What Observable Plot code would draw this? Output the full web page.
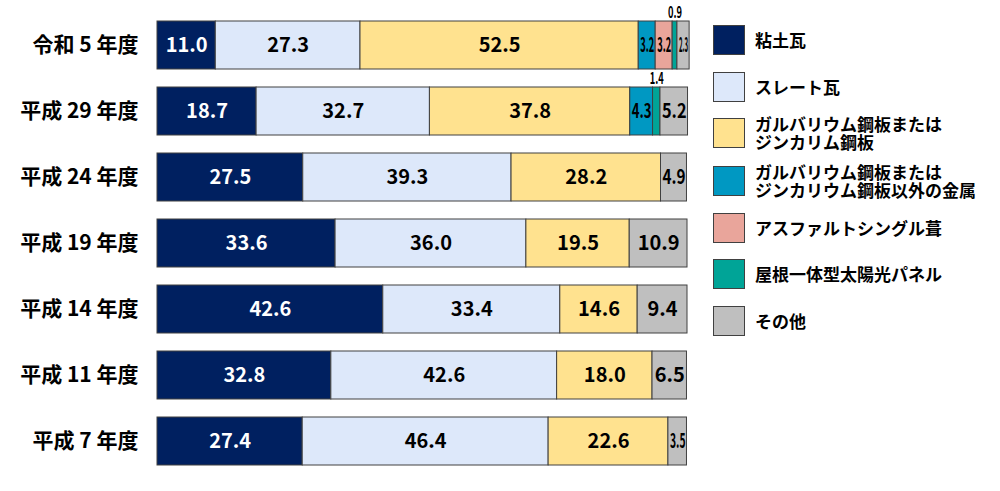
<!DOCTYPE html>
<html><head><meta charset="utf-8">
<script src="https://cdn.jsdelivr.net/npm/d3@7"></script>
<script src="https://cdn.jsdelivr.net/npm/@observablehq/plot@0.6"></script>
<style>
body{margin:0;background:#fff;font-family:"Noto Sans CJK JP",sans-serif;}
#wrap{position:relative;width:1000px;height:491px;}
#legend{position:absolute;left:0;top:0;}
.item{position:absolute;left:713px;display:flex;align-items:center;}
.sw{width:30px;height:28px;border:1px solid #404040;}
.lab{position:absolute;left:42px;font-weight:bold;font-size:17px;line-height:18px;white-space:nowrap;color:#000;}
</style></head>
<body><div id="wrap"><div id="chart"></div><div id="legend"></div></div>
<script>
const years = ["令和 5 年度","平成 29 年度","平成 24 年度","平成 19 年度","平成 14 年度","平成 11 年度","平成 7 年度"];
const seriesNames = ["粘土瓦","スレート瓦","ガルバリウム鋼板またはジンカリム鋼板","ガルバリウム鋼板またはジンカリウム鋼板以外の金属","アスファルトシングル葺","屋根一体型太陽光パネル","その他"];
const legendLines = [["粘土瓦"],["スレート瓦"],["ガルバリウム鋼板または","ジンカリム鋼板"],["ガルバリウム鋼板または","ジンカリウム鋼板以外の金属"],["アスファルトシングル葺"],["屋根一体型太陽光パネル"],["その他"]];
const colors = ["#002060","#dde8fa","#ffe28f","#0098c2","#e9a59b","#00a497","#bfbfbf"];
const clay = [11.0,18.7,27.5,33.6,42.6,32.8,27.4];
const slate = [27.3,32.7,39.3,36.0,33.4,42.6,46.4];
const galvalume = [52.5,37.8,28.2,19.5,14.6,18.0,22.6];
const otherMetal = [3.2,4.3,0,0,0,0,0];
const asphalt = [3.2,0,0,0,0,0,0];
const solar = [0.9,1.4,0,0,0,0,0];
const other = [2.3,5.2,4.9,10.9,9.4,6.5,3.5];
const series = [clay,slate,galvalume,otherMetal,asphalt,solar,other];

// long table, with cumulative start for label placement
const table = [];
years.forEach((y,i)=>{
  let acc = 0;
  series.forEach((s,j)=>{
    if (s[i] > 0) table.push({year:y, series:seriesNames[j], value:s[i], si:j, start:acc, mid:acc + s[i]/2});
    acc += s[i];
  });
});

const inside = d => d.value >= 2;
const insideData = table.filter(inside);
const aboveData = table.filter(d => !inside(d));

const fontFam = '"Noto Sans CJK JP", sans-serif';
const chart = Plot.plot({
  width: 700, height: 491,
  marginLeft: 157, marginRight: 13, marginTop: 3, marginBottom: 8,
  style: {fontFamily: fontFam, background: "#fff"},
  x: {domain:[0,100], axis: null},
  y: {domain: years, padding: 0.2727, label: null},
  color: {domain: seriesNames, range: colors},
  marks: [
    Plot.barX(table, {...Plot.stackX({x:"value", y:"year", fill:"series", order: seriesNames}), stroke:"#404040", strokeWidth:1}),
    Plot.axisY({tickSize:0, tickPadding:19, fontSize:21, fontWeight:"bold", fill:"#000", label:null}),
    Plot.text(insideData, {x:"mid", y:"year", text: d=>d.value.toFixed(1),
      fill: d => d.si===0 ? "#fff" : "#000", fontSize:20, fontWeight:"bold", className:"seglab"}),
    Plot.text(aboveData, {x:"mid", y:"year", text: d=>d.value.toFixed(1),
      fill:"#000", fontSize:16, fontWeight:"bold", dy:-33, className:"toplab"})
  ]
});
document.getElementById("chart").appendChild(chart);

// condense labels in narrow segments
const xs = chart.scale("x");
d3.select(chart).selectAll("g.seglab text").each(function(_, i){
  const d = insideData[i];
  const w = xs.apply(d.value) - xs.apply(0);
  const bb = this.getComputedTextLength();
  if (bb > w - 4) {
    this.setAttribute("textLength", Math.max(w - 3, 8));
    this.setAttribute("lengthAdjust", "spacingAndGlyphs");
  }
});
d3.select(chart).selectAll("g.toplab text").each(function(){
  this.setAttribute("textLength", 14);
  this.setAttribute("lengthAdjust", "spacingAndGlyphs");
});

const tops = [25,72,118,166,213,259,306];
const leg = document.getElementById("legend");
seriesNames.forEach((n,j)=>{
  const it = document.createElement("div");
  it.className="item"; it.style.top = tops[j]+"px";
  const sw = document.createElement("div"); sw.className="sw"; sw.style.background = colors[j];
  it.appendChild(sw);
  const lab = document.createElement("div"); lab.className="lab";
  lab.innerHTML = legendLines[j].join("<br>");
  const lines = legendLines[j].length;
  lab.style.top = (15 - lines*18/2) + "px";
  it.appendChild(lab);
  leg.appendChild(it);
});
</script></body></html>
